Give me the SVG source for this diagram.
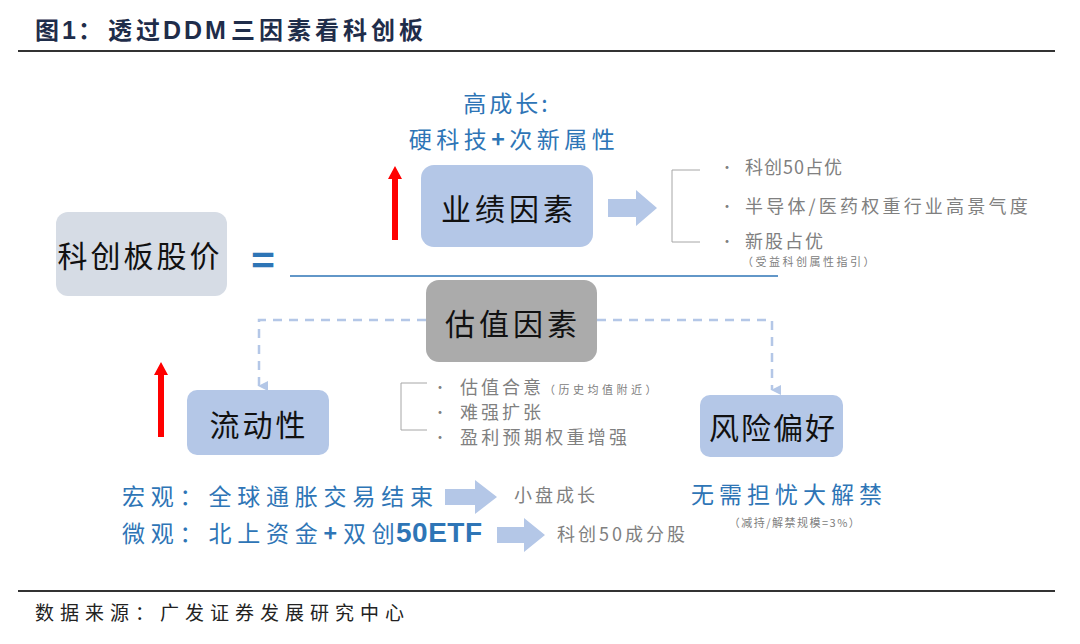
<svg xmlns="http://www.w3.org/2000/svg" width="1080" height="644" viewBox="0 0 1080 644">
<style>
text{font-family:"Noto Sans CJK SC","Noto Sans",sans-serif}
.lat{font-family:"Liberation Sans",Arial,sans-serif;font-weight:bold}
.node{fill:#b4c7e7}
.big{font-size:30px;fill:#111;text-anchor:middle;dominant-baseline:central}
.blue{fill:#2e75b6;font-size:23px}
.gray{fill:#808080;font-size:18px}
.dot{fill:#808080;font-size:14px}
.small{fill:#808080;font-size:11px}
.brk{fill:none;stroke:#a6a6a6;stroke-width:1}
.dash{fill:none;stroke:#b4c7e7;stroke-width:2.5;stroke-dasharray:9 7}
.red{fill:#ff0000}
.barrow{fill:#b4c7e7}
</style>
<defs>
<marker id="ah" viewBox="0 0 10 10" refX="5" refY="9" markerWidth="4" markerHeight="4" orient="auto-start-reverse" markerUnits="strokeWidth">
<path d="M0,0 L10,0 L5,10 Z" fill="#b4c7e7"/>
</marker>
</defs>
<rect width="1080" height="644" fill="#fff"/>
<g id="title">
<text y="39" font-size="24" font-weight="bold" fill="#1f2d4a"><tspan x="35">图</tspan><tspan class="lat" x="62" font-size="25">1</tspan><tspan x="78">：</tspan><tspan x="108" letter-spacing="4">透过</tspan><tspan class="lat" x="163" font-size="25" letter-spacing="3">DDM</tspan><tspan x="231" letter-spacing="4">三因素看科创板</tspan></text>
<line x1="18" y1="51" x2="1055" y2="51" stroke="#333" stroke-width="2"/>
</g>
<g id="connectors">
<line x1="290" y1="276" x2="778" y2="276" stroke="#2e75b6" stroke-width="1.5"/>
<path class="dash" d="M426,320 H259 V386" marker-end="url(#ah)"/>
<path class="dash" d="M597,320 H772 V390" marker-end="url(#ah)"/>
<polygon class="barrow" points="608,199 636,199 636,190 657,208 636,226 636,217 608,217"/>
<polygon class="barrow" points="445,489 475,489 475,480 497,497 475,514 475,505 445,505"/>
<polygon class="barrow" points="497,527 524,527 524,518 545,535 524,552 524,543 497,543"/>
<polygon class="red" points="392,240 392,179 388,179 395,166 402,179 398,179 398,240"/>
<polygon class="red" points="158,437 158,375 154,375 161,362 168,375 164,375 164,437"/>
<path class="brk" d="M700,170 H672 V242 H700"/>
<path class="brk" d="M427,383 H401 V430 H427"/>
</g>
<g id="stock">
<rect x="56" y="212" width="171" height="84" rx="12" fill="#d6dce5"/>
<text class="big" x="140" y="254" letter-spacing="3">科创板股价</text>
</g>
<g id="equals">
<text x="263" y="275" font-size="40" font-weight="bold" fill="#2e75b6" text-anchor="middle">=</text>
</g>
<g id="earnings">
<rect class="node" x="421" y="165" width="172" height="82" rx="13"/>
<text class="big" x="509" y="207" font-size="32" letter-spacing="4">业绩因素</text>
</g>
<g id="growth">
<text class="blue" x="507" y="112" text-anchor="middle" font-size="25" letter-spacing="3">高成长:</text>
<text class="blue" x="514" y="148" text-anchor="middle" font-size="24" letter-spacing="4.5">硬科技<tspan font-weight="bold">+</tspan>次新属性</text>
</g>
<g id="earn-bullets">
<text class="dot" x="720" y="172">•</text>
<text class="gray" x="745" y="174" font-size="19" letter-spacing="1">科创50占优</text>
<text class="dot" x="720" y="211">•</text>
<text class="gray" x="745" y="213" font-size="19" letter-spacing="3.2">半导体/医药权重行业高景气度</text>
<text class="dot" x="720" y="246">•</text>
<text class="gray" x="745" y="248" font-size="19" letter-spacing="2">新股占优</text>
<text class="small" x="742" y="266" letter-spacing="2.5">（受益科创属性指引）</text>
</g>
<g id="valuation">
<rect x="426" y="280" width="171" height="82" rx="13" fill="#ababab"/>
<text class="big" x="513" y="322" font-size="32" letter-spacing="4">估值因素</text>
</g>
<g id="val-bullets">
<text class="dot" x="433" y="392">•</text>
<text class="gray" x="460" y="394" letter-spacing="3">估值合意<tspan font-size="11" letter-spacing="3.5">（历史均值附近）</tspan></text>
<text class="dot" x="433" y="417">•</text>
<text class="gray" x="460" y="419" letter-spacing="3">难强扩张</text>
<text class="dot" x="433" y="442">•</text>
<text class="gray" x="460" y="444" letter-spacing="3.3">盈利预期权重增强</text>
</g>
<g id="liquidity">
<rect class="node" x="187" y="390" width="142" height="65" rx="10"/>
<text class="big" x="259" y="423" font-size="30" letter-spacing="3">流动性</text>
</g>
<g id="risk">
<rect class="node" x="700" y="395" width="143" height="62" rx="10"/>
<text class="big" x="773" y="426" font-size="30" letter-spacing="2">风险偏好</text>
</g>
<g id="macro">
<text class="blue" x="122" y="505" font-size="24" letter-spacing="5.8">宏观：全球通胀交易结束</text>
<text class="gray" x="514" y="502" font-size="17" letter-spacing="3">小盘成长</text>
</g>
<g id="micro">
<text class="blue" x="122" y="542" font-size="24" letter-spacing="5.8">微观：北上资金<tspan font-weight="bold">+</tspan>双创<tspan class="lat" x="396" font-size="28" letter-spacing="0.5">50ETF</tspan></text>
<text class="gray" x="557" y="541" font-size="17" letter-spacing="3">科创50成分股</text>
</g>
<g id="unlock">
<text class="blue" x="789" y="503" font-size="24" text-anchor="middle" letter-spacing="5">无需担忧大解禁</text>
<text class="small" x="795" y="527" text-anchor="middle" letter-spacing="1.5">（减持/解禁规模=3%）</text>
</g>
<g id="footer">
<line x1="18" y1="591" x2="1055" y2="591" stroke="#333" stroke-width="2"/>
<text x="35" y="620" font-size="19" fill="#222" letter-spacing="6">数据来源：广发证券发展研究中心</text>
</g>
</svg>
